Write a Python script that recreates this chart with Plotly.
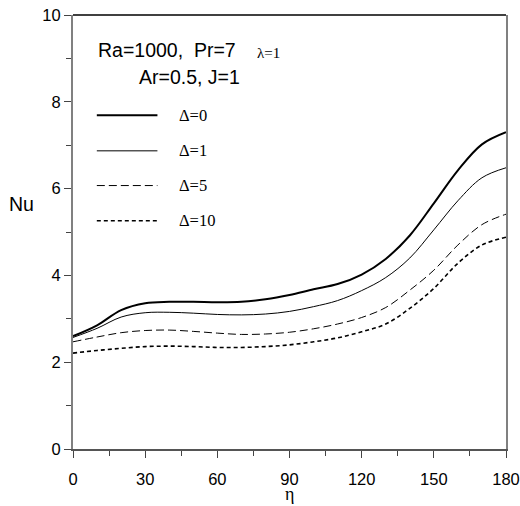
import plotly.graph_objects as go

# angle eta (deg) and Nusselt number for each Delta
eta = [0, 10, 20, 30, 40, 50, 60, 70, 80, 90, 100, 110, 120, 130, 140, 150, 160, 170, 180]
nu_d0 = [2.60, 2.85, 3.20, 3.36, 3.39, 3.39, 3.38, 3.39, 3.45, 3.55, 3.68, 3.80, 4.02, 4.38, 4.92, 5.66, 6.42, 7.02, 7.30]
nu_d1 = [2.57, 2.78, 3.04, 3.14, 3.15, 3.13, 3.10, 3.09, 3.11, 3.17, 3.28, 3.42, 3.65, 3.95, 4.40, 5.05, 5.72, 6.25, 6.48]
nu_d5 = [2.47, 2.58, 2.68, 2.73, 2.74, 2.71, 2.67, 2.64, 2.65, 2.69, 2.77, 2.88, 3.03, 3.26, 3.66, 4.12, 4.70, 5.17, 5.41]
nu_d10 = [2.21, 2.27, 2.32, 2.36, 2.37, 2.36, 2.34, 2.34, 2.36, 2.40, 2.47, 2.56, 2.70, 2.88, 3.24, 3.70, 4.28, 4.70, 4.88]

labels = ["\u0394=0", "\u0394=1", "\u0394=5", "\u0394=10"]
series = [nu_d0, nu_d1, nu_d5, nu_d10]
styles = [(2, "solid"), (1, "solid"), (1, "8px,4px"), (1.6, "4px,3px")]

SANS = "Liberation Sans, Arial, sans-serif"
SERIF = "Liberation Serif, Times New Roman, serif"

fig = go.Figure()
for lab, ys, (w, dash) in zip(labels, series, styles):
    fig.add_trace(go.Scatter(x=eta, y=ys, mode="lines", name=lab,
                             line=dict(color="black", width=w, dash=dash, shape="spline", smoothing=1.0)))

# legend drawn by hand (long line samples like the original)
leg_y = [0.769, 0.687, 0.607, 0.526]
for (w, dash), lab, yy in zip(styles, labels, leg_y):
    fig.add_shape(type="line", xref="paper", yref="paper", x0=0.055, x1=0.195, y0=yy, y1=yy,
                  line=dict(color="black", width=w, dash=dash))
    fig.add_annotation(xref="paper", yref="paper", x=0.24, y=yy, text=lab, showarrow=False,
                       xanchor="left", yanchor="middle", font=dict(family=SERIF, size=16.5, color="black"))

fig.add_annotation(xref="paper", yref="paper", x=0.053, y=0.919, text="Ra=1000,  Pr=7", showarrow=False,
                   xanchor="left", yanchor="middle", font=dict(family=SANS, size=19.5, color="black"))
fig.add_annotation(xref="paper", yref="paper", x=0.42, y=0.913, text="\u03bb=1", showarrow=False,
                   xanchor="left", yanchor="middle", font=dict(family=SERIF, size=15, color="black"))
fig.add_annotation(xref="paper", yref="paper", x=0.148, y=0.856, text="Ar=0.5, J=1", showarrow=False,
                   xanchor="left", yanchor="middle", font=dict(family=SANS, size=19.5, color="black"))

# top border line
fig.add_shape(type="line", xref="paper", yref="paper", x0=0, x1=1, y0=1, y1=1,
              line=dict(color="black", width=1.5))

fig.update_layout(
    width=520, height=506,
    margin=dict(l=73, r=14, t=15, b=57, autoexpand=False),
    plot_bgcolor="white", paper_bgcolor="white",
    showlegend=False,
    xaxis=dict(range=[0, 180], tickvals=[0, 30, 60, 90, 120, 150, 180], ticks="outside", ticklen=7,
               tickcolor="#444", showgrid=False, zeroline=False, showline=True, linecolor="#555",
               linewidth=1.5, automargin=False, ticklabelstandoff=7,
               tickfont=dict(family=SANS, size=16.5, color="black"),
               minor=dict(tickvals=[15, 45, 75, 105, 135, 165], ticks="outside", ticklen=5, tickcolor="#444")),
    yaxis=dict(range=[0, 10], tickvals=[0, 2, 4, 6, 8, 10], ticks="outside", ticklen=7,
               tickcolor="#444", showgrid=False, zeroline=False, showline=True, linecolor="#808080",
               linewidth=2, mirror=True, automargin=False,
               tickfont=dict(family=SANS, size=16.5, color="black"),
               minor=dict(tickvals=[1, 3, 5, 7, 9], ticks="outside", ticklen=5, tickcolor="#444")),
)
# axis titles placed as annotations to match the original positions
fig.add_annotation(xref="paper", yref="paper", x=-0.118, y=0.565, text="Nu", showarrow=False,
                   xanchor="center", yanchor="middle", font=dict(family=SANS, size=19.5, color="black"))
fig.add_annotation(xref="paper", yref="paper", x=0.5, y=-0.103, text="\u03b7", showarrow=False,
                   xanchor="center", yanchor="middle", font=dict(family=SERIF, size=18, color="black"))

# page has a default 8px body margin; drop it so the figure fills the window
fig.write_html("out.html", config={"displayModeBar": False},
               post_script="document.body.style.margin='0';document.body.style.overflow='hidden';")
